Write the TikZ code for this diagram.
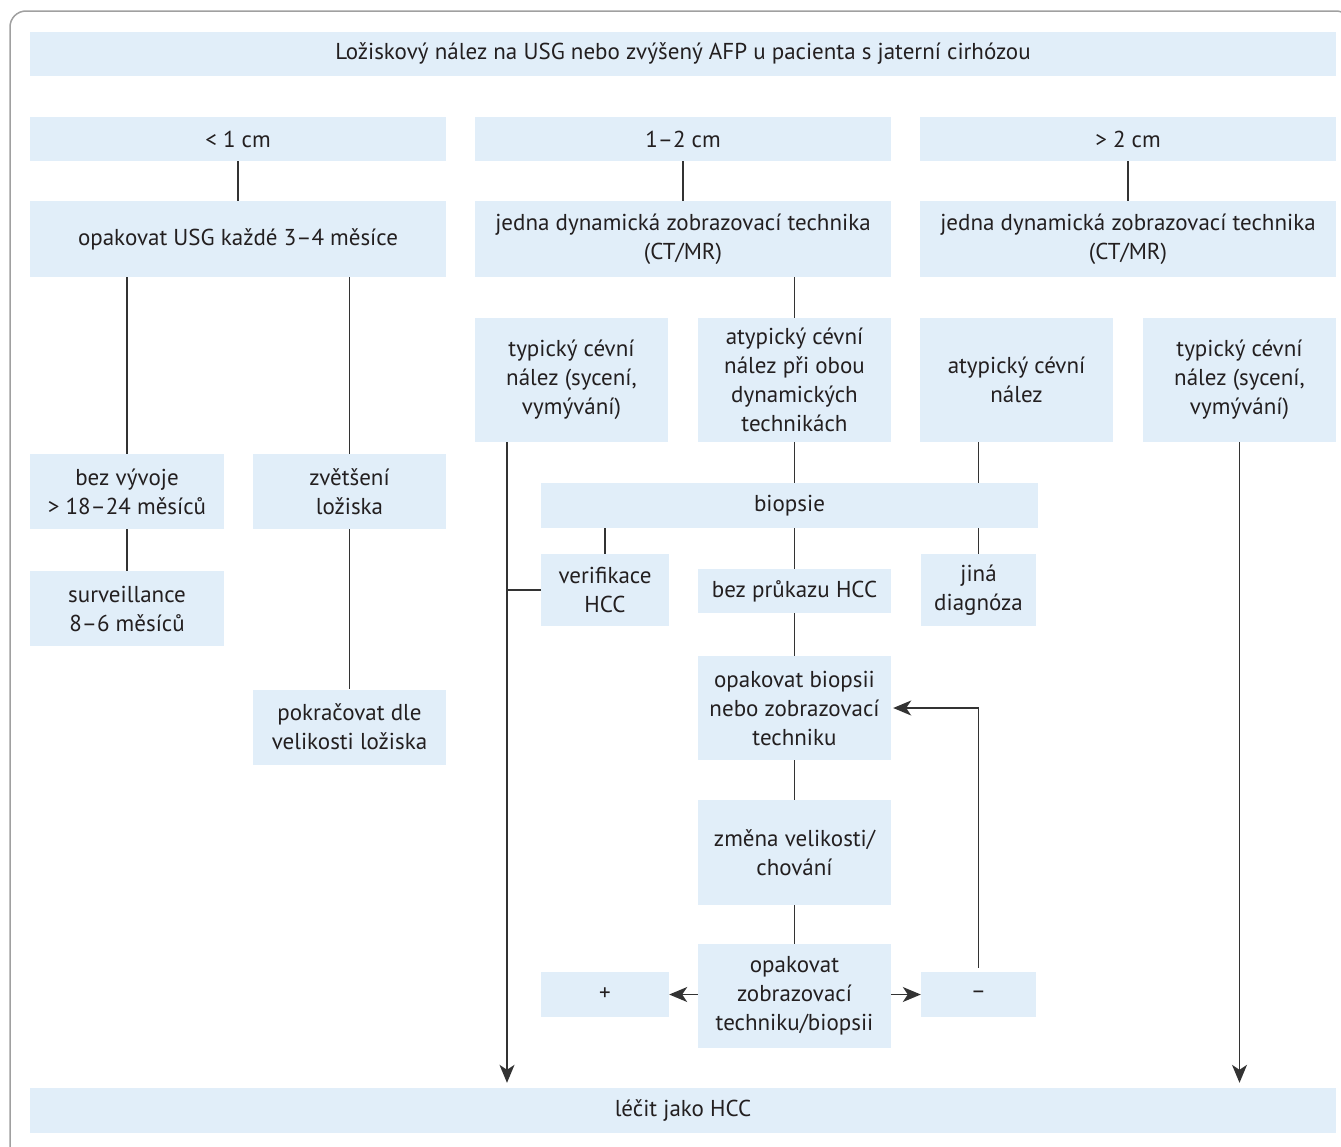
\documentclass[tikz,border=0pt]{standalone}
\usepackage{fontspec}
\setmainfont{PT Sans}
\usepackage{tikz}
\usetikzlibrary{arrows.meta}
\usetikzlibrary{calc}

\definecolor{boxblue}{HTML}{E1EEF9}
\definecolor{ink}{HTML}{231F20}
\definecolor{wire}{HTML}{333333}
\definecolor{rim}{HTML}{A0A0A0}

\tikzset{
  box/.style={fill=boxblue, text=ink, align=center, inner sep=0pt, font=\fontsize{23}{29}\selectfont},
  dims/.style 2 args={minimum width=#1pt, minimum height=#2pt},
  link/.style={draw=wire, line width=1.4pt},
  arr/.style={link, -{Stealth[length=18pt, width=15pt, inset=5pt]}},
}

\begin{document}
\begin{tikzpicture}[x=1pt, y=-1pt]

            \useasboundingbox (0,0) rectangle (1341,1146);

            \draw[rim, line width=1.5pt, rounded corners=16pt] (10,11) rectangle (1352,1162);

            \node[box, dims={1306}{44}] (title) at (683,54) {Ložiskový nález na USG nebo zvýšený AFP u pacienta s jaterní cirhózou};

            \node[box, dims={416}{44}] (small) at (238,139) {< 1 cm};
            \node[box, dims={416}{44}] (mid) at (683,139) {1–2 cm};
            \node[box, dims={416}{44}] (big) at (1128,139) {> 2 cm};

            \node[box, dims={416}{76}] (usg) at (238,239) {opakovat USG každé 3–4 měsíce};
            \node[box, dims={416}{76}] (dynmid) at (683,239) {jedna dynamická zobrazovací technika\\(CT/MR)};
            \node[box, dims={416}{76}] (dynbig) at (1128,239) {jedna dynamická zobrazovací technika\\(CT/MR)};

            \node[box, dims={193}{124}] (typmid) at (571.5,380) {typický cévní\\nález (sycení,\\vymývání)};
            \node[box, dims={193}{124}] (atypmid) at (794.5,380) {atypický cévní\\nález při obou\\dynamických\\technikách};
            \node[box, dims={193}{124}] (atypbig) at (1016.5,380) {atypický cévní\\nález};
            \node[box, dims={193}{124}] (typbig) at (1239.5,380) {typický cévní\\nález (sycení,\\vymývání)};

            \node[box, dims={194}{75}] (stable) at (127,491.5) {bez vývoje\\> 18–24 měsíců};
            \node[box, dims={193}{75}] (growth) at (349.5,491.5) {zvětšení\\ložiska};
            \node[box, dims={194}{75}] (watch) at (127,608.5) {surveillance\\8–6 měsíců};
            \node[box, dims={193}{75}] (follow) at (349.5,727) {pokračovat dle\\velikosti ložiska};

            \node[box, dims={497}{45}] (biopsy) at (789.5,505.5) {biopsie};
            \node[box, dims={128}{72}] (verified) at (605,590) {verifikace\\HCC};
            \node[box, dims={193}{44}] (noproof) at (794.5,591) {bez průkazu HCC};
            \node[box, dims={115}{72}] (other) at (978.5,590) {jiná\\diagnóza};
            \node[box, dims={193}{104}] (repeat) at (794.5,708) {opakovat biopsii\\nebo zobrazovací\\techniku};
            \node[box, dims={193}{105}] (change) at (794.5,852.5) {změna velikosti/\\chování};
            \node[box, dims={193}{104}] (recheck) at (794.5,996) {opakovat\\zobrazovací\\techniku/biopsii};
            \node[box, dims={128}{45}] (pos) at (605,994.5) {+};
            \node[box, dims={115}{45}] (neg) at (978.5,994.5) {–};

            \node[box, dims={1306}{45}] (treat) at (683,1110.5) {léčit jako HCC};

            \draw[link] (small) -- (usg);
            \draw[link] (mid) -- (dynmid);
            \draw[link] (big) -- (dynbig);

            \draw[link] (usg.south -| stable.north) -- (stable);
            \draw[link] (usg.south -| growth.north) -- (growth);
            \draw[link] (stable) -- (watch);
            \draw[link] (growth) -- (follow);

            \draw[link] (dynmid.south -| atypmid.north) -- (atypmid);
            \draw[link] (atypmid) -- (atypmid |- biopsy.north);
            \draw[link] (atypbig.south -| other.north) -- (other.north |- biopsy.north);

            \draw[link] (biopsy.south -| verified.north) -- (verified);
            \draw[link] (biopsy.south -| noproof.north) -- (noproof);
            \draw[link] (biopsy.south -| other.north) -- (other);

            \draw[link] (noproof) -- (repeat);
            \draw[link] (repeat) -- (change);
            \draw[link] (change) -- (recheck);

            \draw[arr] (recheck.west |- pos.east) -- (pos.east);
            \draw[arr] (recheck.east |- neg.west) -- (neg.west);
            \draw[arr, shorten >=2pt] ([yshift=4pt]neg.north) -- (neg.north |- repeat.east) -- (repeat.east);

            \coordinate (drop) at ([xshift=-64.5pt]typmid.south);
            \draw[arr, shorten >=5pt] (drop) -- (drop |- treat.north);
            \draw[link] (verified.west) -- (verified.west -| drop);
            \draw[arr, shorten >=5pt] (typbig) -- (typbig |- treat.north);

          \end{tikzpicture}
\end{document}
